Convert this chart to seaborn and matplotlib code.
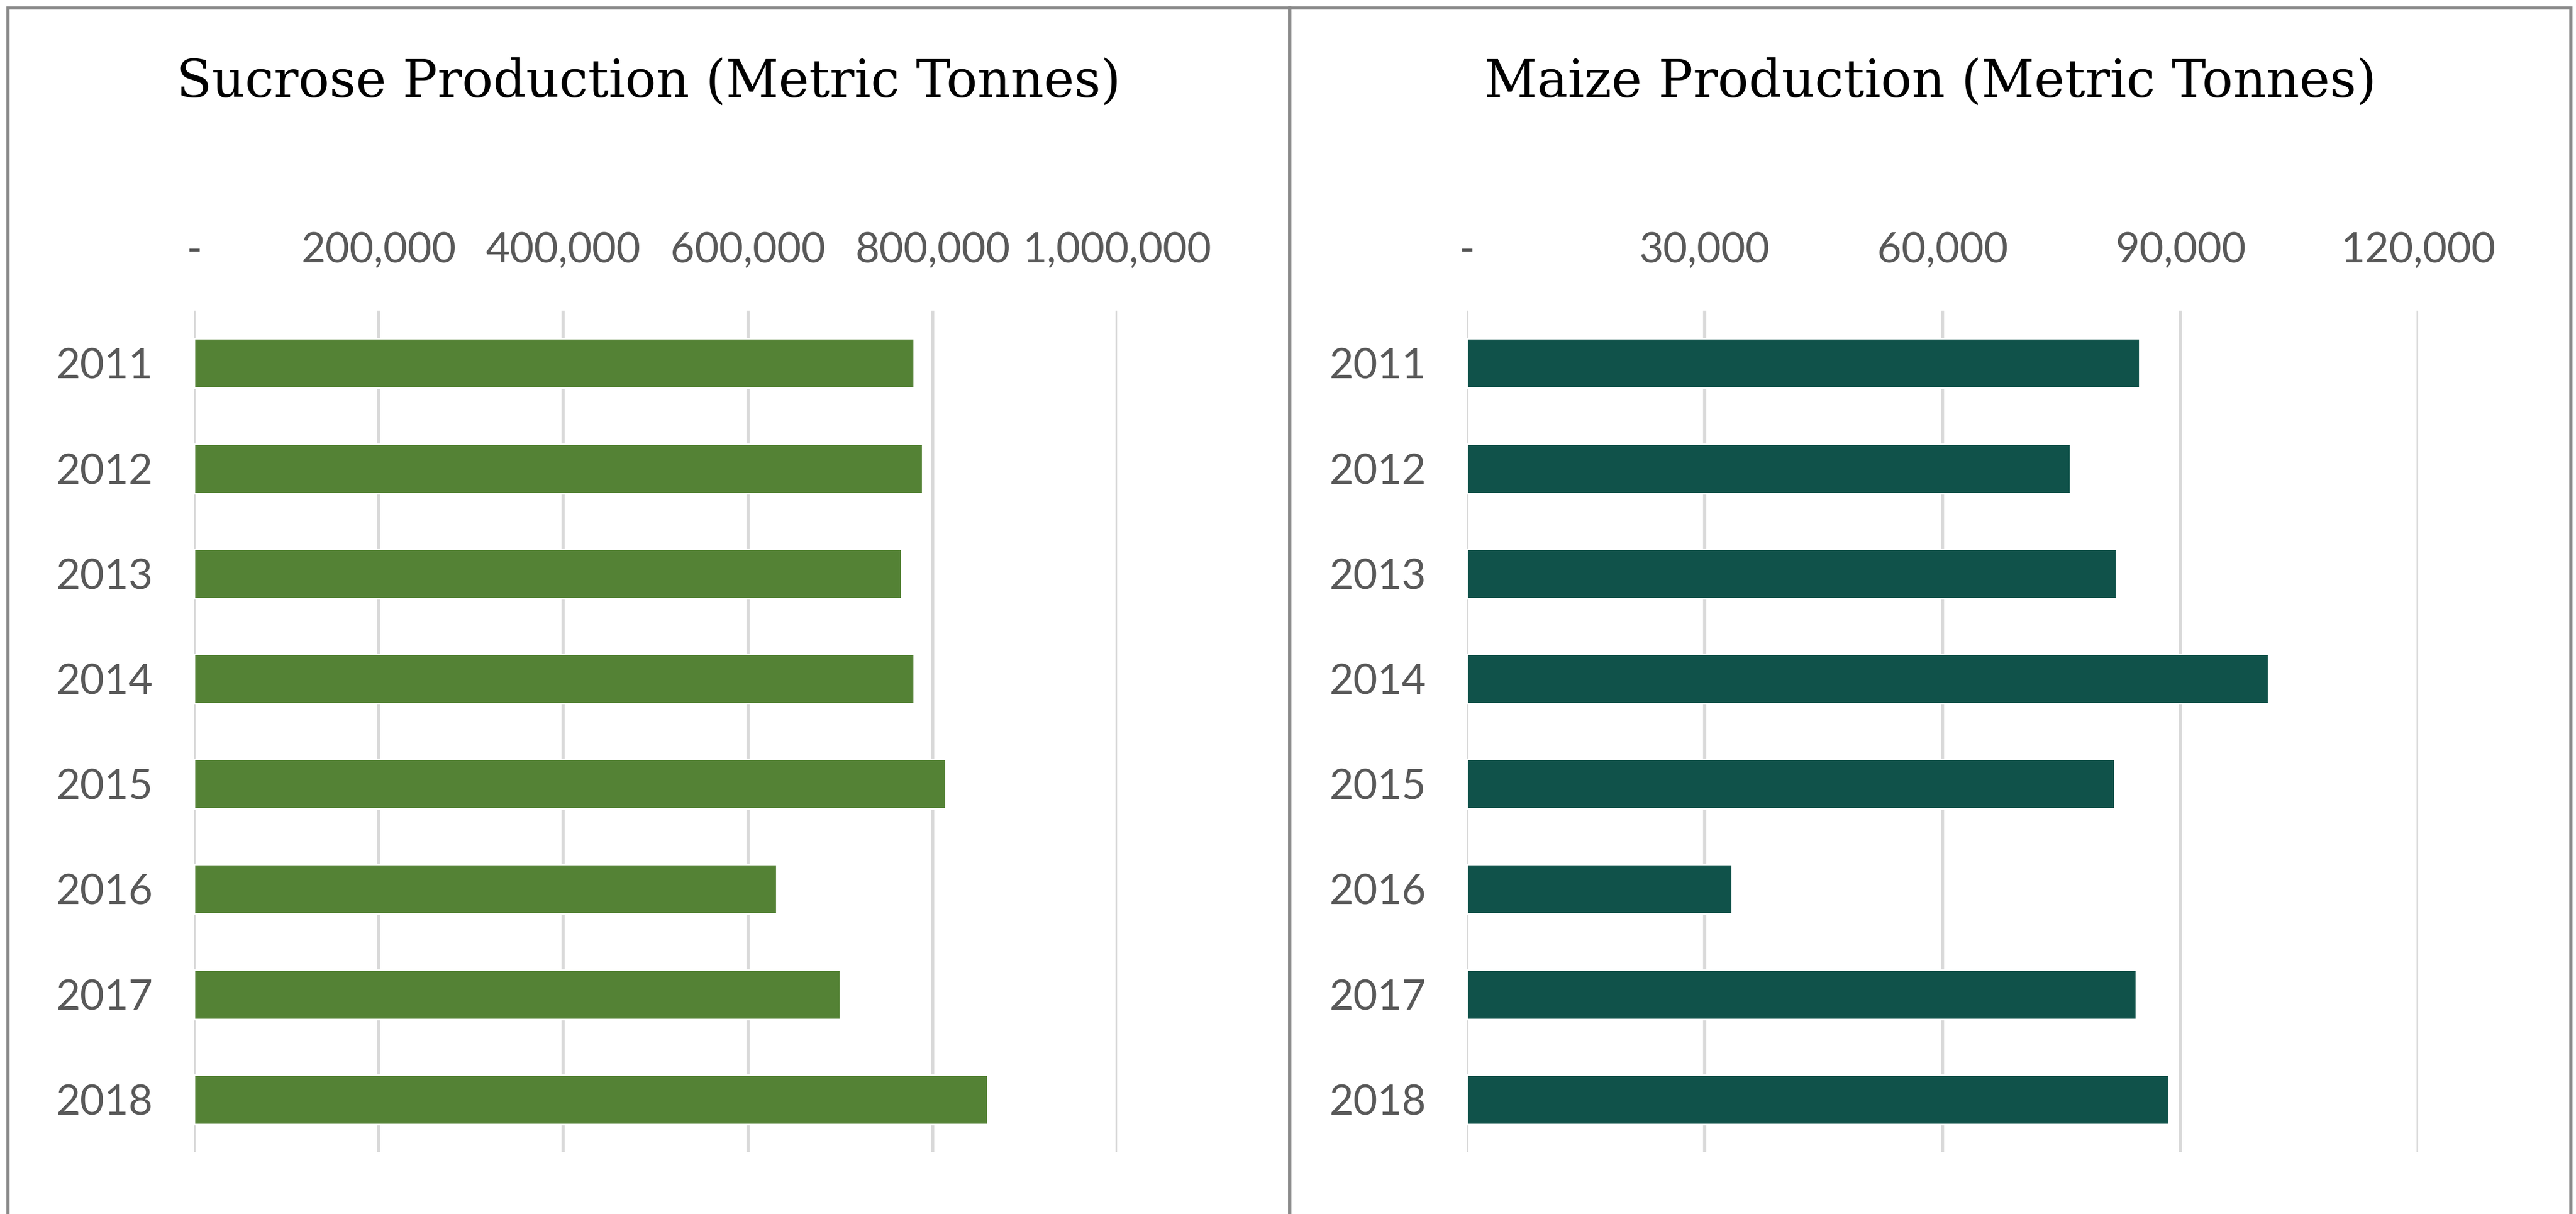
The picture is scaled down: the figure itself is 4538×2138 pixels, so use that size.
import matplotlib
matplotlib.use("Agg")
import matplotlib.pyplot as plt
import matplotlib.ticker as mticker
from matplotlib.patches import Rectangle
import seaborn as sns
import pandas as pd

years = ["2011", "2012", "2013", "2014", "2015", "2016", "2017", "2018"]
sucrose = [780000, 789000, 766000, 780000, 814000, 631000, 700000, 860000]
maize = [84800, 76100, 81900, 101100, 81700, 33400, 84400, 88500]

sucrose_ticks = [0, 200000, 400000, 600000, 800000, 1000000]
maize_ticks = [0, 30000, 60000, 90000, 120000]

sns.set_theme(style="white")
plt.rcParams["font.family"] = ["Lato", "DejaVu Sans"]

W, H, DPI = 4538, 2138, 200
fig = plt.figure(figsize=(W / DPI, H / DPI), dpi=DPI)
fig.patch.set_facecolor("white")

# panel frames (bottom edge runs off the image)
frame_col = "#8a8a8a"
for x0, x1 in [(5 / 1568, 785 / 1568), (785 / 1568, 1565 / 1568)]:
    fig.add_artist(Rectangle((x0, -0.05), x1 - x0, 1 - 5 / 739 + 0.05,
                             transform=fig.transFigure, fill=False,
                             edgecolor=frame_col, linewidth=2.0))


def fmt(v, pos):
    return "-" if v == 0 else f"{v:,.0f}"


def panel(rect, values, ticks, color, title, title_x):
    ax = fig.add_axes(rect)
    df = pd.DataFrame({"year": years, "value": values})
    sns.barplot(data=df, x="value", y="year", orient="h", color=color,
                saturation=1, width=0.47, ax=ax)
    ax.set_xlim(0, ticks[-1])
    ax.set_xticks(ticks)
    ax.xaxis.set_major_formatter(mticker.FuncFormatter(fmt))
    ax.xaxis.tick_top()
    ax.set_xlabel("")
    ax.set_ylabel("")
    ax.grid(axis="x", color="#d9d9d9", linewidth=2.0)
    ax.set_axisbelow(True)
    for s in ax.spines.values():
        s.set_visible(False)
    ax.tick_params(axis="x", length=0, pad=26, labelsize=26.5, labelcolor="#595959")
    ax.tick_params(axis="y", length=0, pad=26, labelsize=26.5, labelcolor="#595959")
    fig.text(title_x, 0.932, title, ha="center", va="center",
             fontsize=32.7, family="DejaVu Serif", color="black")
    return ax


panel([0.0753, 0.051, 0.4337 - 0.0753, 0.744 - 0.051], sucrose, sucrose_ticks,
      "#548235", "Sucrose Production (Metric Tonnes)", 395 / 1568)
panel([0.5695, 0.051, 0.9388 - 0.5695, 0.744 - 0.051], maize, maize_ticks,
      "#10524A", "Maize Production (Metric Tonnes)", 1175 / 1568)

fig.savefig("out.png", dpi=DPI, facecolor="white")
